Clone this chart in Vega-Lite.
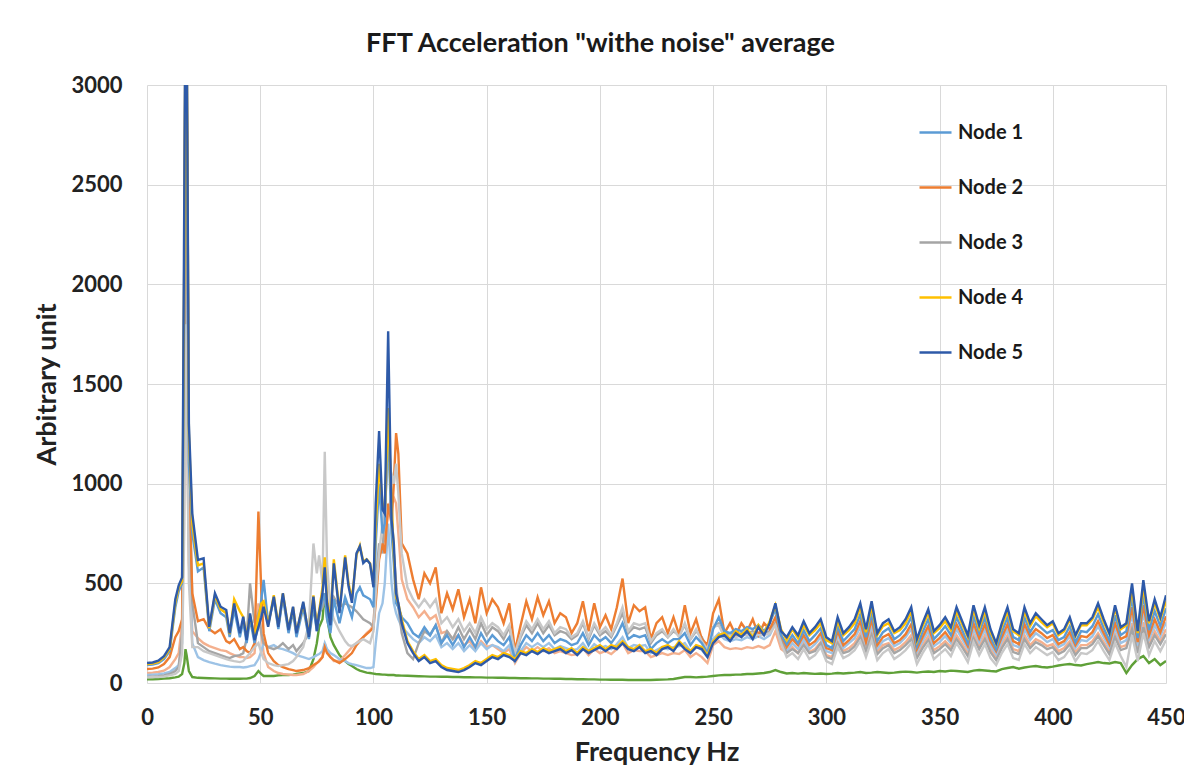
{
  "$schema": "https://vega.github.io/schema/vega-lite/v6.json",
  "width": 1019,
  "height": 598,
  "autosize": {"type": "none"},
  "padding": {"left": 147, "top": 85, "right": 18, "bottom": 101},
  "background": "white",
  "config": {"view": {"stroke": null}},
  "title": {"text": "FFT Acceleration \"withe noise\" average", "font": "Lato", "fontSize": 27, "fontWeight": "bold", "color": "#1a1a1a", "anchor": "middle", "offset": 16, "dx": -56},
  "data": {"values": [
    {"f":0,"n1":90,"n2":70,"n3":30,"n4":95,"n5":100,"n6":50,"n7":28,"n8":18,"n9":40},
    {"f":2.5,"n1":92,"n2":72,"n3":32,"n4":97,"n5":103,"n6":52,"n7":30,"n8":18,"n9":42},
    {"f":5,"n1":100,"n2":78,"n3":34,"n4":105,"n5":112,"n6":55,"n7":30,"n8":20,"n9":44},
    {"f":7.5,"n1":120,"n2":95,"n3":38,"n4":128,"n5":135,"n6":62,"n7":33,"n8":22,"n9":48},
    {"f":10,"n1":160,"n2":130,"n3":45,"n4":170,"n5":180,"n6":80,"n7":38,"n8":24,"n9":55},
    {"f":12.5,"n1":380,"n2":230,"n3":60,"n4":400,"n5":420,"n6":120,"n7":45,"n8":28,"n9":75},
    {"f":14,"n1":460,"n2":260,"n3":80,"n4":480,"n5":490,"n6":150,"n7":60,"n8":32,"n9":90},
    {"f":15.5,"n1":500,"n2":320,"n3":250,"n4":510,"n5":530,"n6":300,"n7":150,"n8":45,"n9":200},
    {"f":16.5,"n1":2000,"n2":1800,"n3":2200,"n4":2200,"n5":2500,"n6":1000,"n7":800,"n8":100,"n9":1200},
    {"f":17,"n1":3300,"n2":3300,"n3":3400,"n4":3400,"n5":3500,"n6":1700,"n7":1800,"n8":170,"n9":2300},
    {"f":17.5,"n1":3000,"n2":3100,"n3":3300,"n4":3300,"n5":3400,"n6":1500,"n7":1500,"n8":140,"n9":2000},
    {"f":18.5,"n1":1100,"n2":1000,"n3":1200,"n4":1250,"n5":1300,"n6":600,"n7":500,"n8":60,"n9":700},
    {"f":20,"n1":750,"n2":450,"n3":400,"n4":800,"n5":850,"n6":260,"n7":180,"n8":30,"n9":200},
    {"f":22.5,"n1":560,"n2":310,"n3":200,"n4":590,"n5":617,"n6":225,"n7":180,"n8":26,"n9":130},
    {"f":25,"n1":580,"n2":320,"n3":180,"n4":600,"n5":625,"n6":200,"n7":160,"n8":25,"n9":115},
    {"f":27.5,"n1":260,"n2":270,"n3":160,"n4":275,"n5":282,"n6":185,"n7":150,"n8":24,"n9":105},
    {"f":30,"n1":420,"n2":250,"n3":150,"n4":440,"n5":450,"n6":175,"n7":140,"n8":23,"n9":97},
    {"f":32.5,"n1":350,"n2":270,"n3":140,"n4":370,"n5":383,"n6":165,"n7":130,"n8":22,"n9":90},
    {"f":35,"n1":330,"n2":210,"n3":130,"n4":350,"n5":366,"n6":160,"n7":120,"n8":22,"n9":85},
    {"f":36.5,"n1":230,"n2":200,"n3":125,"n4":245,"n5":249,"n6":150,"n7":115,"n8":21,"n9":82},
    {"f":38.5,"n1":370,"n2":220,"n3":135,"n4":420,"n5":399,"n6":140,"n7":110,"n8":21,"n9":80},
    {"f":41,"n1":230,"n2":170,"n3":140,"n4":360,"n5":249,"n6":130,"n7":105,"n8":21,"n9":80},
    {"f":42.5,"n1":310,"n2":180,"n3":150,"n4":330,"n5":333,"n6":130,"n7":110,"n8":22,"n9":78},
    {"f":44,"n1":200,"n2":160,"n3":220,"n4":230,"n5":215,"n6":125,"n7":130,"n8":22,"n9":80},
    {"f":45.5,"n1":320,"n2":150,"n3":500,"n4":340,"n5":349,"n6":130,"n7":150,"n8":25,"n9":85},
    {"f":47.5,"n1":200,"n2":200,"n3":300,"n4":230,"n5":215,"n6":150,"n7":180,"n8":35,"n9":90},
    {"f":49.2,"n1":300,"n2":860,"n3":350,"n4":330,"n5":280,"n6":400,"n7":200,"n8":60,"n9":120},
    {"f":50.5,"n1":420,"n2":450,"n3":250,"n4":400,"n5":330,"n6":250,"n7":150,"n8":45,"n9":160},
    {"f":51.5,"n1":517,"n2":250,"n3":200,"n4":410,"n5":383,"n6":150,"n7":120,"n8":35,"n9":200},
    {"f":53.5,"n1":300,"n2":150,"n3":180,"n4":290,"n5":282,"n6":80,"n7":100,"n8":35,"n9":180},
    {"f":56,"n1":420,"n2":110,"n3":170,"n4":440,"n5":433,"n6":60,"n7":90,"n8":35,"n9":190},
    {"f":58,"n1":270,"n2":90,"n3":180,"n4":290,"n5":282,"n6":50,"n7":85,"n8":38,"n9":175},
    {"f":60,"n1":430,"n2":80,"n3":200,"n4":450,"n5":450,"n6":45,"n7":90,"n8":40,"n9":170},
    {"f":62.5,"n1":250,"n2":70,"n3":170,"n4":270,"n5":266,"n6":42,"n7":95,"n8":40,"n9":160},
    {"f":64.5,"n1":360,"n2":65,"n3":190,"n4":380,"n5":383,"n6":40,"n7":110,"n8":42,"n9":150},
    {"f":66,"n1":230,"n2":60,"n3":160,"n4":255,"n5":249,"n6":40,"n7":130,"n8":45,"n9":140},
    {"f":69,"n1":380,"n2":65,"n3":200,"n4":400,"n5":408,"n6":45,"n7":180,"n8":50,"n9":130},
    {"f":71.5,"n1":220,"n2":75,"n3":250,"n4":240,"n5":232,"n6":60,"n7":300,"n8":60,"n9":120},
    {"f":73.5,"n1":380,"n2":90,"n3":400,"n4":440,"n5":433,"n6":80,"n7":700,"n8":120,"n9":130},
    {"f":75,"n1":260,"n2":100,"n3":300,"n4":280,"n5":260,"n6":100,"n7":550,"n8":200,"n9":140},
    {"f":76,"n1":330,"n2":110,"n3":350,"n4":360,"n5":350,"n6":110,"n7":640,"n8":280,"n9":145},
    {"f":77.5,"n1":420,"n2":130,"n3":380,"n4":480,"n5":450,"n6":130,"n7":500,"n8":320,"n9":160},
    {"f":78.5,"n1":450,"n2":180,"n3":420,"n4":630,"n5":580,"n6":200,"n7":1160,"n8":451,"n9":200},
    {"f":79.5,"n1":320,"n2":150,"n3":400,"n4":420,"n5":400,"n6":160,"n7":600,"n8":330,"n9":170},
    {"f":81,"n1":250,"n2":130,"n3":380,"n4":310,"n5":290,"n6":130,"n7":380,"n8":230,"n9":150},
    {"f":82.5,"n1":420,"n2":115,"n3":430,"n4":620,"n5":600,"n6":110,"n7":320,"n8":190,"n9":140},
    {"f":85,"n1":300,"n2":100,"n3":380,"n4":360,"n5":350,"n6":110,"n7":260,"n8":140,"n9":120},
    {"f":87.5,"n1":430,"n2":120,"n3":400,"n4":640,"n5":630,"n6":140,"n7":210,"n8":110,"n9":110},
    {"f":89,"n1":380,"n2":135,"n3":390,"n4":500,"n5":485,"n6":160,"n7":190,"n8":95,"n9":100},
    {"f":90.5,"n1":330,"n2":150,"n3":380,"n4":420,"n5":402,"n6":180,"n7":185,"n8":85,"n9":95},
    {"f":92.5,"n1":450,"n2":190,"n3":360,"n4":640,"n5":650,"n6":200,"n7":200,"n8":70,"n9":90},
    {"f":94,"n1":480,"n2":210,"n3":340,"n4":690,"n5":686,"n6":215,"n7":210,"n8":62,"n9":85},
    {"f":95.5,"n1":440,"n2":230,"n3":320,"n4":610,"n5":602,"n6":230,"n7":220,"n8":57,"n9":80},
    {"f":97,"n1":430,"n2":245,"n3":310,"n4":620,"n5":619,"n6":250,"n7":210,"n8":52,"n9":75},
    {"f":98.5,"n1":420,"n2":260,"n3":300,"n4":600,"n5":598,"n6":265,"n7":200,"n8":50,"n9":75},
    {"f":100,"n1":380,"n2":280,"n3":280,"n4":500,"n5":480,"n6":290,"n7":260,"n8":47,"n9":80},
    {"f":101,"n1":700,"n2":400,"n3":500,"n4":780,"n5":900,"n6":480,"n7":450,"n8":45,"n9":200},
    {"f":102.5,"n1":1000,"n2":620,"n3":700,"n4":1100,"n5":1264,"n6":640,"n7":650,"n8":44,"n9":350},
    {"f":104,"n1":750,"n2":700,"n3":650,"n4":900,"n5":870,"n6":700,"n7":800,"n8":42,"n9":400},
    {"f":105,"n1":800,"n2":650,"n3":850,"n4":850,"n5":850,"n6":720,"n7":900,"n8":42,"n9":500},
    {"f":106.5,"n1":1300,"n2":900,"n3":1350,"n4":1380,"n5":1764,"n6":850,"n7":1100,"n8":40,"n9":800},
    {"f":108,"n1":750,"n2":800,"n3":900,"n4":900,"n5":820,"n6":950,"n7":1050,"n8":40,"n9":500},
    {"f":109,"n1":600,"n2":1000,"n3":650,"n4":650,"n5":700,"n6":930,"n7":1000,"n8":40,"n9":400},
    {"f":110,"n1":400,"n2":1254,"n3":500,"n4":430,"n5":450,"n6":900,"n7":1100,"n8":38,"n9":350},
    {"f":111,"n1":380,"n2":1150,"n3":380,"n4":400,"n5":400,"n6":750,"n7":950,"n8":38,"n9":320},
    {"f":112.5,"n1":330,"n2":700,"n3":250,"n4":320,"n5":300,"n6":520,"n7":650,"n8":37,"n9":280},
    {"f":115,"n1":300,"n2":650,"n3":150,"n4":210,"n5":200,"n6":420,"n7":480,"n8":36,"n9":250},
    {"f":117.5,"n1":250,"n2":520,"n3":120,"n4":160,"n5":150,"n6":380,"n7":420,"n8":35,"n9":220},
    {"f":120,"n1":230,"n2":420,"n3":200,"n4":120,"n5":110,"n6":330,"n7":380,"n8":34,"n9":200},
    {"f":122.5,"n1":280,"n2":550,"n3":260,"n4":140,"n5":130,"n6":360,"n7":420,"n8":33,"n9":230},
    {"f":125,"n1":240,"n2":500,"n3":240,"n4":110,"n5":100,"n6":320,"n7":380,"n8":32,"n9":210},
    {"f":127.5,"n1":290,"n2":580,"n3":290,"n4":120,"n5":110,"n6":340,"n7":420,"n8":32,"n9":240},
    {"f":130,"n1":200,"n2":350,"n3":200,"n4":90,"n5":80,"n6":250,"n7":300,"n8":31,"n9":180},
    {"f":132.5,"n1":240,"n2":450,"n3":260,"n4":75,"n5":65,"n6":260,"n7":330,"n8":31,"n9":200},
    {"f":135,"n1":190,"n2":370,"n3":220,"n4":70,"n5":60,"n6":220,"n7":280,"n8":30,"n9":170},
    {"f":137.5,"n1":240,"n2":470,"n3":280,"n4":65,"n5":55,"n6":240,"n7":320,"n8":30,"n9":200},
    {"f":140,"n1":180,"n2":330,"n3":220,"n4":75,"n5":65,"n6":190,"n7":260,"n8":29,"n9":160},
    {"f":142.5,"n1":230,"n2":420,"n3":270,"n4":90,"n5":80,"n6":210,"n7":300,"n8":29,"n9":190},
    {"f":145,"n1":180,"n2":300,"n3":220,"n4":110,"n5":100,"n6":170,"n7":250,"n8":28,"n9":160},
    {"f":147.5,"n1":250,"n2":480,"n3":300,"n4":100,"n5":90,"n6":210,"n7":330,"n8":28,"n9":200},
    {"f":150,"n1":200,"n2":350,"n3":240,"n4":120,"n5":110,"n6":180,"n7":270,"n8":27,"n9":170},
    {"f":152.5,"n1":240,"n2":420,"n3":280,"n4":140,"n5":130,"n6":190,"n7":300,"n8":27,"n9":190},
    {"f":155,"n1":210,"n2":380,"n3":260,"n4":130,"n5":120,"n6":170,"n7":280,"n8":26,"n9":180},
    {"f":157.5,"n1":190,"n2":300,"n3":220,"n4":150,"n5":140,"n6":150,"n7":240,"n8":26,"n9":160},
    {"f":160,"n1":230,"n2":400,"n3":280,"n4":140,"n5":130,"n6":170,"n7":290,"n8":25,"n9":190},
    {"f":162.5,"n1":120,"n2":160,"n3":140,"n4":120,"n5":110,"n6":100,"n7":150,"n8":25,"n9":110},
    {"f":165,"n1":190,"n2":290,"n3":230,"n4":160,"n5":150,"n6":150,"n7":240,"n8":24,"n9":160},
    {"f":167.5,"n1":240,"n2":410,"n3":290,"n4":150,"n5":140,"n6":180,"n7":310,"n8":24,"n9":200},
    {"f":170,"n1":210,"n2":320,"n3":250,"n4":170,"n5":160,"n6":160,"n7":270,"n8":23,"n9":180},
    {"f":172.5,"n1":250,"n2":430,"n3":300,"n4":155,"n5":145,"n6":180,"n7":320,"n8":23,"n9":200},
    {"f":175,"n1":210,"n2":340,"n3":250,"n4":175,"n5":165,"n6":160,"n7":270,"n8":22,"n9":180},
    {"f":177.5,"n1":240,"n2":410,"n3":290,"n4":160,"n5":150,"n6":175,"n7":310,"n8":22,"n9":200},
    {"f":180,"n1":200,"n2":300,"n3":240,"n4":170,"n5":160,"n6":150,"n7":250,"n8":21,"n9":170},
    {"f":182.5,"n1":220,"n2":350,"n3":260,"n4":180,"n5":170,"n6":160,"n7":280,"n8":21,"n9":185},
    {"f":185,"n1":210,"n2":330,"n3":250,"n4":160,"n5":150,"n6":150,"n7":270,"n8":20,"n9":175},
    {"f":187.5,"n1":190,"n2":250,"n3":220,"n4":175,"n5":165,"n6":140,"n7":230,"n8":20,"n9":165},
    {"f":190,"n1":200,"n2":300,"n3":240,"n4":150,"n5":140,"n6":145,"n7":250,"n8":19,"n9":170},
    {"f":192.5,"n1":250,"n2":410,"n3":300,"n4":180,"n5":170,"n6":175,"n7":310,"n8":19,"n9":200},
    {"f":195,"n1":190,"n2":260,"n3":220,"n4":160,"n5":150,"n6":140,"n7":230,"n8":18,"n9":160},
    {"f":197.5,"n1":240,"n2":400,"n3":290,"n4":175,"n5":165,"n6":170,"n7":300,"n8":18,"n9":195},
    {"f":200,"n1":210,"n2":280,"n3":240,"n4":190,"n5":180,"n6":150,"n7":250,"n8":17,"n9":175},
    {"f":202.5,"n1":230,"n2":340,"n3":260,"n4":170,"n5":160,"n6":160,"n7":280,"n8":17,"n9":185},
    {"f":205,"n1":200,"n2":270,"n3":230,"n4":190,"n5":180,"n6":145,"n7":240,"n8":16,"n9":170},
    {"f":207.5,"n1":240,"n2":380,"n3":290,"n4":180,"n5":170,"n6":170,"n7":300,"n8":16,"n9":195},
    {"f":210,"n1":300,"n2":524,"n3":350,"n4":210,"n5":200,"n6":200,"n7":380,"n8":16,"n9":230},
    {"f":212.5,"n1":220,"n2":300,"n3":250,"n4":180,"n5":170,"n6":150,"n7":260,"n8":15,"n9":175},
    {"f":215,"n1":240,"n2":390,"n3":280,"n4":170,"n5":160,"n6":165,"n7":300,"n8":15,"n9":190},
    {"f":217.5,"n1":230,"n2":360,"n3":270,"n4":190,"n5":180,"n6":160,"n7":290,"n8":15,"n9":185},
    {"f":220,"n1":240,"n2":380,"n3":280,"n4":160,"n5":150,"n6":160,"n7":300,"n8":15,"n9":190},
    {"f":222.5,"n1":170,"n2":220,"n3":200,"n4":170,"n5":160,"n6":130,"n7":210,"n8":15,"n9":150},
    {"f":225,"n1":200,"n2":300,"n3":240,"n4":150,"n5":140,"n6":140,"n7":250,"n8":16,"n9":165},
    {"f":227.5,"n1":220,"n2":330,"n3":260,"n4":180,"n5":170,"n6":150,"n7":270,"n8":17,"n9":180},
    {"f":230,"n1":200,"n2":250,"n3":230,"n4":190,"n5":180,"n6":140,"n7":230,"n8":18,"n9":170},
    {"f":232.5,"n1":220,"n2":330,"n3":260,"n4":170,"n5":160,"n6":150,"n7":270,"n8":20,"n9":180},
    {"f":235,"n1":220,"n2":240,"n3":240,"n4":210,"n5":200,"n6":145,"n7":230,"n8":25,"n9":185},
    {"f":237.5,"n1":250,"n2":390,"n3":290,"n4":180,"n5":170,"n6":165,"n7":300,"n8":30,"n9":200},
    {"f":240,"n1":190,"n2":250,"n3":220,"n4":160,"n5":150,"n6":130,"n7":220,"n8":30,"n9":160},
    {"f":242.5,"n1":230,"n2":320,"n3":260,"n4":190,"n5":180,"n6":150,"n7":270,"n8":28,"n9":185},
    {"f":245,"n1":200,"n2":220,"n3":230,"n4":180,"n5":170,"n6":130,"n7":210,"n8":30,"n9":165},
    {"f":247.5,"n1":150,"n2":190,"n3":170,"n4":140,"n5":130,"n6":100,"n7":170,"n8":32,"n9":130},
    {"f":250,"n1":270,"n2":350,"n3":280,"n4":210,"n5":200,"n6":190,"n7":280,"n8":35,"n9":220},
    {"f":252.5,"n1":330,"n2":420,"n3":300,"n4":240,"n5":230,"n6":210,"n7":290,"n8":38,"n9":250},
    {"f":255,"n1":260,"n2":250,"n3":240,"n4":250,"n5":240,"n6":180,"n7":230,"n8":40,"n9":220},
    {"f":257.5,"n1":250,"n2":300,"n3":250,"n4":220,"n5":210,"n6":170,"n7":240,"n8":40,"n9":210},
    {"f":260,"n1":270,"n2":240,"n3":240,"n4":260,"n5":250,"n6":175,"n7":230,"n8":42,"n9":220},
    {"f":262.5,"n1":260,"n2":300,"n3":250,"n4":240,"n5":230,"n6":170,"n7":240,"n8":43,"n9":215},
    {"f":265,"n1":280,"n2":260,"n3":250,"n4":270,"n5":260,"n6":180,"n7":240,"n8":45,"n9":230},
    {"f":267.5,"n1":270,"n2":320,"n3":260,"n4":230,"n5":220,"n6":175,"n7":250,"n8":45,"n9":220},
    {"f":270,"n1":290,"n2":240,"n3":250,"n4":290,"n5":280,"n6":185,"n7":240,"n8":48,"n9":235},
    {"f":272.5,"n1":260,"n2":300,"n3":250,"n4":250,"n5":240,"n6":175,"n7":240,"n8":50,"n9":220},
    {"f":275,"n1":300,"n2":270,"n3":260,"n4":310,"n5":300,"n6":190,"n7":250,"n8":55,"n9":240},
    {"f":277.5,"n1":370,"n2":330,"n3":300,"n4":390,"n5":400,"n6":260,"n7":290,"n8":65,"n9":300},
    {"f":280,"n1":240,"n2":240,"n3":220,"n4":270,"n5":260,"n6":170,"n7":200,"n8":55,"n9":200},
    {"f":282.5,"n5":230,"n4":215,"n1":195,"n2":180,"n9":160,"n6":150,"n3":150,"n7":130,"n8":48},
    {"f":285,"n5":280,"n4":270,"n1":240,"n2":220,"n9":200,"n6":180,"n3":170,"n7":150,"n8":50},
    {"f":287.5,"n5":240,"n4":225,"n1":200,"n2":190,"n9":170,"n6":150,"n3":150,"n7":120,"n8":47},
    {"f":290,"n5":310,"n4":290,"n1":265,"n2":240,"n9":220,"n6":200,"n3":190,"n7":170,"n8":50},
    {"f":292.5,"n5":250,"n4":240,"n1":210,"n2":190,"n9":170,"n6":155,"n3":150,"n7":120,"n8":48},
    {"f":295,"n5":280,"n4":265,"n1":240,"n2":210,"n9":195,"n6":170,"n3":160,"n7":140,"n8":46},
    {"f":297.5,"n5":320,"n4":300,"n1":275,"n2":250,"n9":230,"n6":205,"n3":200,"n7":180,"n8":48},
    {"f":300,"n5":230,"n4":215,"n1":190,"n2":175,"n9":160,"n6":140,"n3":130,"n7":110,"n8":45},
    {"f":302.5,"n5":210,"n4":200,"n1":175,"n2":165,"n9":150,"n6":130,"n3":120,"n7":95,"n8":47},
    {"f":305,"n5":330,"n4":310,"n1":285,"n2":260,"n9":240,"n6":210,"n3":200,"n7":180,"n8":50},
    {"f":307.5,"n5":250,"n4":240,"n1":210,"n2":190,"n9":175,"n6":160,"n3":150,"n7":125,"n8":48},
    {"f":310,"n5":280,"n4":265,"n1":240,"n2":215,"n9":200,"n6":175,"n3":160,"n7":140,"n8":50},
    {"f":312.5,"n5":320,"n4":300,"n1":270,"n2":245,"n9":225,"n6":200,"n3":185,"n7":165,"n8":52},
    {"f":315,"n5":400,"n4":380,"n1":345,"n2":310,"n9":280,"n6":250,"n3":230,"n7":210,"n8":55},
    {"f":317.5,"n5":270,"n4":255,"n1":230,"n2":205,"n9":190,"n6":170,"n3":160,"n7":130,"n8":50},
    {"f":320,"n5":410,"n4":385,"n1":350,"n2":320,"n9":290,"n6":260,"n3":240,"n7":215,"n8":52},
    {"f":322.5,"n5":250,"n4":240,"n1":210,"n2":190,"n9":175,"n6":160,"n3":145,"n7":115,"n8":55},
    {"f":325,"n5":300,"n4":285,"n1":255,"n2":230,"n9":210,"n6":190,"n3":175,"n7":150,"n8":53},
    {"f":327.5,"n5":320,"n4":300,"n1":275,"n2":245,"n9":225,"n6":200,"n3":190,"n7":170,"n8":50},
    {"f":330,"n5":260,"n4":250,"n1":220,"n2":200,"n9":185,"n6":165,"n3":150,"n7":120,"n8":52},
    {"f":332.5,"n5":280,"n4":265,"n1":240,"n2":215,"n9":200,"n6":180,"n3":165,"n7":140,"n8":55},
    {"f":335,"n5":320,"n4":300,"n1":275,"n2":245,"n9":230,"n6":205,"n3":190,"n7":165,"n8":57},
    {"f":337.5,"n5":380,"n4":360,"n1":330,"n2":295,"n9":270,"n6":240,"n3":220,"n7":200,"n8":55},
    {"f":340,"n5":220,"n4":210,"n1":185,"n2":170,"n9":155,"n6":140,"n3":125,"n7":95,"n8":52},
    {"f":342.5,"n5":300,"n4":285,"n1":255,"n2":230,"n9":210,"n6":190,"n3":175,"n7":150,"n8":56},
    {"f":345,"n5":370,"n4":350,"n1":320,"n2":285,"n9":260,"n6":235,"n3":215,"n7":195,"n8":58},
    {"f":347.5,"n5":260,"n4":250,"n1":220,"n2":200,"n9":185,"n6":165,"n3":150,"n7":120,"n8":55},
    {"f":350,"n5":290,"n4":275,"n1":250,"n2":225,"n9":205,"n6":185,"n3":170,"n7":145,"n8":60},
    {"f":352.5,"n5":330,"n4":310,"n1":285,"n2":255,"n9":235,"n6":210,"n3":195,"n7":170,"n8":58},
    {"f":355,"n5":280,"n4":265,"n1":240,"n2":215,"n9":200,"n6":180,"n3":165,"n7":135,"n8":62},
    {"f":357.5,"n5":380,"n4":360,"n1":330,"n2":295,"n9":270,"n6":240,"n3":220,"n7":200,"n8":60},
    {"f":360,"n5":310,"n4":295,"n1":265,"n2":240,"n9":220,"n6":195,"n3":180,"n7":155,"n8":58},
    {"f":362.5,"n5":240,"n4":230,"n1":200,"n2":185,"n9":170,"n6":150,"n3":135,"n7":105,"n8":55},
    {"f":365,"n5":390,"n4":370,"n1":335,"n2":300,"n9":275,"n6":245,"n3":225,"n7":205,"n8":62},
    {"f":367.5,"n5":290,"n4":275,"n1":250,"n2":225,"n9":205,"n6":185,"n3":170,"n7":140,"n8":65},
    {"f":370,"n5":380,"n4":360,"n1":330,"n2":295,"n9":270,"n6":240,"n3":220,"n7":195,"n8":63},
    {"f":372.5,"n5":270,"n4":255,"n1":230,"n2":210,"n9":190,"n6":170,"n3":155,"n7":125,"n8":60},
    {"f":375,"n5":200,"n4":195,"n1":170,"n2":160,"n9":145,"n6":130,"n3":115,"n7":90,"n8":58},
    {"f":377.5,"n5":300,"n4":285,"n1":255,"n2":230,"n9":210,"n6":190,"n3":175,"n7":150,"n8":70},
    {"f":380,"n5":380,"n4":360,"n1":330,"n2":295,"n9":270,"n6":240,"n3":220,"n7":195,"n8":75},
    {"f":382.5,"n5":270,"n4":260,"n1":230,"n2":210,"n9":190,"n6":170,"n3":155,"n7":125,"n8":80},
    {"f":385,"n5":250,"n4":240,"n1":215,"n2":195,"n9":180,"n6":160,"n3":145,"n7":115,"n8":72},
    {"f":387.5,"n5":380,"n4":360,"n1":330,"n2":295,"n9":270,"n6":240,"n3":220,"n7":195,"n8":78},
    {"f":390,"n5":300,"n4":285,"n1":255,"n2":235,"n9":215,"n6":190,"n3":175,"n7":150,"n8":82},
    {"f":392.5,"n5":350,"n4":335,"n1":300,"n2":270,"n9":250,"n6":220,"n3":205,"n7":180,"n8":85},
    {"f":395,"n5":320,"n4":305,"n1":275,"n2":250,"n9":230,"n6":205,"n3":190,"n7":160,"n8":80},
    {"f":397.5,"n5":290,"n4":280,"n1":250,"n2":225,"n9":205,"n6":185,"n3":170,"n7":140,"n8":78},
    {"f":400,"n5":310,"n4":300,"n1":265,"n2":240,"n9":220,"n6":195,"n3":180,"n7":155,"n8":82},
    {"f":402.5,"n5":250,"n4":240,"n1":215,"n2":195,"n9":180,"n6":160,"n3":145,"n7":115,"n8":88},
    {"f":405,"n5":270,"n4":260,"n1":230,"n2":210,"n9":195,"n6":175,"n3":160,"n7":130,"n8":92},
    {"f":407.5,"n5":330,"n4":320,"n1":285,"n2":255,"n9":235,"n6":210,"n3":195,"n7":170,"n8":95},
    {"f":410,"n5":240,"n4":235,"n1":205,"n2":190,"n9":175,"n6":155,"n3":140,"n7":110,"n8":90},
    {"f":412.5,"n5":300,"n4":290,"n1":260,"n2":235,"n9":215,"n6":190,"n3":175,"n7":150,"n8":88},
    {"f":415,"n5":300,"n4":290,"n1":255,"n2":230,"n9":210,"n6":190,"n3":175,"n7":145,"n8":95},
    {"f":417.5,"n5":330,"n4":320,"n1":285,"n2":255,"n9":235,"n6":210,"n3":195,"n7":165,"n8":100},
    {"f":420,"n5":400,"n4":380,"n1":345,"n2":310,"n9":285,"n6":250,"n3":235,"n7":210,"n8":105},
    {"f":422.5,"n5":320,"n4":305,"n1":275,"n2":250,"n9":230,"n6":205,"n3":190,"n7":160,"n8":100},
    {"f":425,"n5":250,"n4":245,"n1":215,"n2":195,"n9":180,"n6":160,"n3":145,"n7":115,"n8":98},
    {"f":427.5,"n5":390,"n4":375,"n1":340,"n2":300,"n9":275,"n6":245,"n3":230,"n7":200,"n8":105},
    {"f":430,"n5":280,"n4":270,"n1":240,"n2":220,"n9":200,"n6":180,"n3":165,"n7":135,"n8":100},
    {"f":432.5,"n5":300,"n4":290,"n1":260,"n2":235,"n9":215,"n6":190,"n3":175,"n7":80,"n8":50},
    {"f":435,"n5":500,"n4":470,"n1":430,"n2":380,"n9":345,"n6":300,"n3":270,"n7":240,"n8":90},
    {"f":437.5,"n5":260,"n4":250,"n1":225,"n2":205,"n9":185,"n6":165,"n3":150,"n7":110,"n8":120},
    {"f":440,"n5":516,"n4":480,"n1":440,"n2":390,"n9":350,"n6":305,"n3":280,"n7":250,"n8":135},
    {"f":442.5,"n5":310,"n4":300,"n1":265,"n2":240,"n9":220,"n6":195,"n3":180,"n7":140,"n8":100},
    {"f":445,"n5":420,"n4":400,"n1":360,"n2":320,"n9":290,"n6":260,"n3":240,"n7":210,"n8":120},
    {"f":447.5,"n5":330,"n4":320,"n1":285,"n2":255,"n9":235,"n6":210,"n3":195,"n7":160,"n8":90},
    {"f":450,"n5":440,"n4":410,"n1":375,"n2":335,"n9":305,"n6":270,"n3":245,"n7":215,"n8":110}
  ]},
  "transform": [{"fold": ["n8", "n6", "n9", "n3", "n2", "n7", "n1", "n4", "n5"], "as": ["series", "value"]}],
  "mark": {"type": "line", "strokeWidth": 2.4, "clip": true},
  "encoding": {
    "x": {"field": "f", "type": "quantitative", "scale": {"domain": [0, 450], "nice": false},
      "axis": {"values": [0, 50, 100, 150, 200, 250, 300, 350, 400, 450], "title": "Frequency Hz", "titleFont": "Lato", "titleFontSize": 27, "titleFontWeight": "bold", "titleColor": "#222", "labelFont": "Lato", "labelFontSize": 22, "labelFontWeight": "bold", "labelColor": "#222", "labelPadding": 24, "titlePadding": 11, "ticks": false, "tickSize": 0, "domain": false, "grid": true, "gridColor": "#d9d9d9", "gridWidth": 1, "labelFlush": false}},
    "y": {"field": "value", "type": "quantitative", "scale": {"domain": [0, 3000], "nice": false},
      "axis": {"values": [0, 500, 1000, 1500, 2000, 2500, 3000], "format": "d", "title": "Arbitrary unit", "titleFont": "Lato", "titleFontSize": 27, "titleFontWeight": "bold", "titleColor": "#222", "labelFont": "Lato", "labelFontSize": 22, "labelFontWeight": "bold", "labelColor": "#222", "labelPadding": 25, "titlePadding": 9, "ticks": false, "tickSize": 0, "domain": false, "grid": true, "gridColor": "#d9d9d9", "gridWidth": 1, "labelFlush": false}},
    "color": {"field": "series", "type": "nominal",
      "scale": {"domain": ["n1", "n2", "n3", "n4", "n5", "n6", "n7", "n8", "n9"], "range": ["#5B9BD5", "#ED7D31", "#A5A5A5", "#FFC000", "#2E5AA8", "#F4B08E", "#C8C8C8", "#5FA038", "#9DC3E6"]},
      "legend": {"values": ["n1", "n2", "n3", "n4", "n5"], "title": null, "orient": "none", "legendX": 771, "legendY": 30, "symbolType": "stroke", "symbolSize": 1024, "symbolStrokeWidth": 2.5, "labelFont": "Lato", "labelFontSize": 20, "labelFontWeight": "bold", "labelColor": "#1a1a1a", "labelOffset": 5, "rowPadding": 27, "padding": 0, "labelExpr": "replace(datum.label, 'n', 'Node ')"}}
  }
}
